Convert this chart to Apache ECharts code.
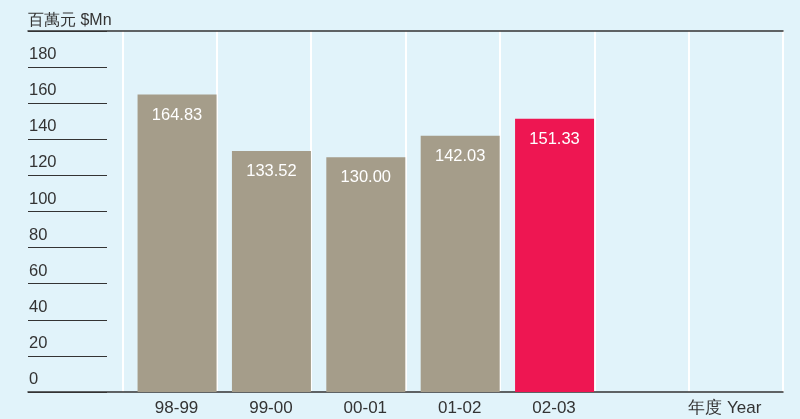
<!DOCTYPE html>
<html><head><meta charset="utf-8">
<script src="https://cdn.jsdelivr.net/npm/echarts@6/dist/echarts.min.js"></script>
<style>html,body{margin:0;padding:0;background:#e1f3fa;}#c{width:800px;height:419px;}</style>
</head><body><div id="c"></div>
<script>
const categories = ['', '98-99', '99-00', '00-01', '01-02', '02-03', '', '年度 Year'];
const values = [null, 164.83, 133.52, 130.00, 142.03, 151.33, null, null];
const highlightIndex = 5;
const yTicks = [0, 20, 40, 60, 80, 100, 120, 140, 160, 180];
const unitLabel = '百萬元 $Mn';

const font = '"Liberation Sans", Arial, sans-serif';
const chart = echarts.init(document.getElementById('c'));
chart.setOption({
  backgroundColor: '#e1f3fa',
  animation: false,
  title: { text: unitLabel, left: 23, top: 8, textStyle: { fontFamily: font, fontSize: 16, fontWeight: 'normal', color: '#333' } },
  grid: { left: 28, right: 17, top: 31, bottom: 27 },
  xAxis: [{
    type: 'category', data: categories.map((c, i) => i === 7 ? { value: c, textStyle: { padding: [0, 22, 0, 0] } } : c),
    axisLine: { lineStyle: { color: '#333', width: 1.5 } },
    axisTick: { show: false },
    axisLabel: { color: '#333', fontSize: 17, fontFamily: font, margin: 8, interval: 0, padding: [0, 0, 0, 14] },
    splitLine: { show: true, interval: (i) => i !== 0, lineStyle: { color: '#ffffff', width: 2 } }
  }, {
    type: 'category', position: 'top', data: categories,
    axisLine: { lineStyle: { color: '#333', width: 1.5 } },
    axisTick: { show: false }, axisLabel: { show: false }
  }],
  yAxis: {
    type: 'value', min: 0, max: 200, interval: 20,
    axisLine: { show: false },
    axisTick: { show: true, inside: true, length: 79, lineStyle: { color: '#333', width: 1.2 } },
    axisLabel: { inside: true, margin: 1, verticalAlign: 'bottom', padding: [0, 0, 4, 0], color: '#333', fontSize: 16.5, fontFamily: font,
      formatter: (v) => yTicks.includes(v) ? String(v) : '' },
    splitLine: { show: false }
  },
  series: [{
    type: 'bar', barWidth: 15, barGap: '0%', data: categories.map(() => 0), itemStyle: { opacity: 0 }, silent: true
  }, {
    type: 'bar', barWidth: 79, barGap: '0%',
    data: values.map((v, i) => v === null ? null : { value: v, itemStyle: { color: i === highlightIndex ? '#ee1652' : '#a59d8a' } }),
    label: { show: true, position: 'insideTop', distance: 12, color: '#ffffff', fontSize: 16.5, fontFamily: font,
      formatter: (p) => p.value.toFixed(2) }
  }]
});
</script></body></html>
